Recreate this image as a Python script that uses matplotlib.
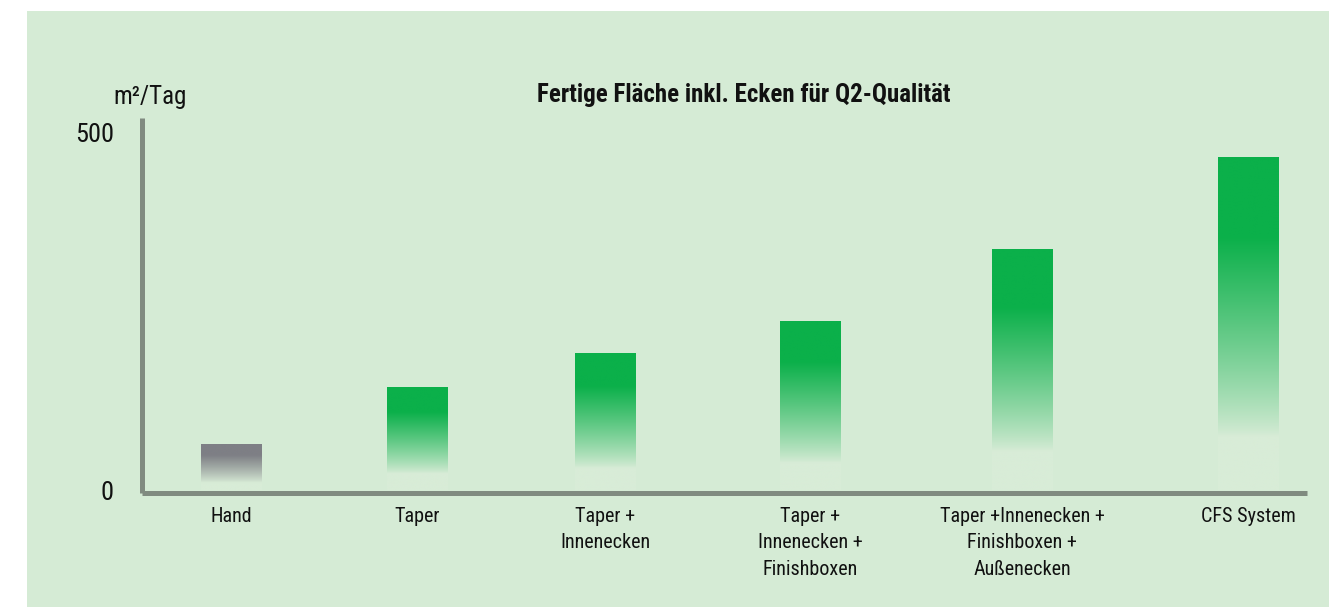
import matplotlib
matplotlib.use("Agg")
import matplotlib.pyplot as plt
import matplotlib.colors as mcolors
import numpy as np
from matplotlib.patches import Rectangle

# Daten
KATEGORIEN = [
    "Hand",
    "Taper",
    "Taper +\nInnenecken",
    "Taper +\nInnenecken +\nFinishboxen",
    "Taper +Innenecken +\nFinishboxen +\nAußenecken",
    "CFS System",
]
WERTE = [64, 144, 191, 236, 337, 465]
Y_TICKS = [0, 500]
TITEL = "Fertige Fläche inkl. Ecken für Q2-Qualität"
EINHEIT = "m²/Tag"

# Layout (Pixel im 1336x607-Bild)
W, H = 1336, 607
POSITIONEN = [89.5, 275.5, 463.5, 668.5, 880.5, 1107]  # relativ zur y-Achse
BAR_W = 61

BG = "#d5ebd5"
GREEN = "#0bb04a"
GREY = "#7e7f85"
FAINT = "#d8ecd7"
AXIS = "#808b80"
TEXT = "#111111"

plt.rcParams["font.family"] = ["Roboto Condensed", "DejaVu Sans"]

fig = plt.figure(figsize=(W / 100, H / 100), dpi=100, facecolor="white")
fig.patches.append(
    Rectangle((27 / W, 0), (1329 - 27) / W, (607 - 11) / H,
              transform=fig.transFigure, facecolor=BG, edgecolor="none", zorder=-5)
)

ax_l, ax_r = 141.5, 1307
ax_b, ax_t = 493, 118
ax = fig.add_axes([ax_l / W, (H - ax_b) / H, (ax_r - ax_l) / W, (ax_b - ax_t) / H])
ax.set_facecolor("none")

px_per_unit = (490 - 133) / 500


def gradient(top_color, n=300):
    f = np.linspace(0, 1, n)  # 0 = unten, 1 = oben
    w = np.clip((f - 0.16) / (0.76 - 0.16), 0, 1)
    w = w ** 0.85
    top = np.array(mcolors.to_rgb(top_color))
    bot = np.array(mcolors.to_rgb(FAINT))
    rgb = bot[None, :] * (1 - w[:, None]) + top[None, :] * w[:, None]
    return rgb[:, None, :]


for i, (x, v) in enumerate(zip(POSITIONEN, WERTE)):
    col = GREY if i == 0 else GREEN
    ax.imshow(gradient(col), extent=[x - BAR_W / 2, x + BAR_W / 2, 0, v],
              origin="lower", aspect="auto", interpolation="bilinear", zorder=2)
ax.set_xlim(0, ax_r - ax_l)
ax.set_ylim(-(ax_b - 490) / px_per_unit, (490 - ax_t) / px_per_unit)

for s in ["top", "right"]:
    ax.spines[s].set_visible(False)
for s in ["left", "bottom"]:
    ax.spines[s].set_color(AXIS)
    ax.spines[s].set_linewidth(3.6)
    ax.spines[s].set_capstyle("butt")

ax.set_yticks(Y_TICKS)
ax.set_yticklabels([str(t) for t in Y_TICKS], fontsize=19, color=TEXT)
ax.tick_params(axis="y", length=0, pad=20)
ax.set_xticks(POSITIONEN)
ax.set_xticklabels(KATEGORIEN, fontsize=14.5, color=TEXT, linespacing=1.5)
ax.tick_params(axis="x", length=0, pad=10)

fig.text(744 / W, 1 - 95 / H, TITEL, ha="center", va="center",
         fontsize=18, fontweight="bold", color=TEXT)
fig.text(113 / W, 1 - 97 / H, EINHEIT, ha="left", va="center",
         fontsize=18, color=TEXT)

fig.savefig("out.png", dpi=100, facecolor="white")
